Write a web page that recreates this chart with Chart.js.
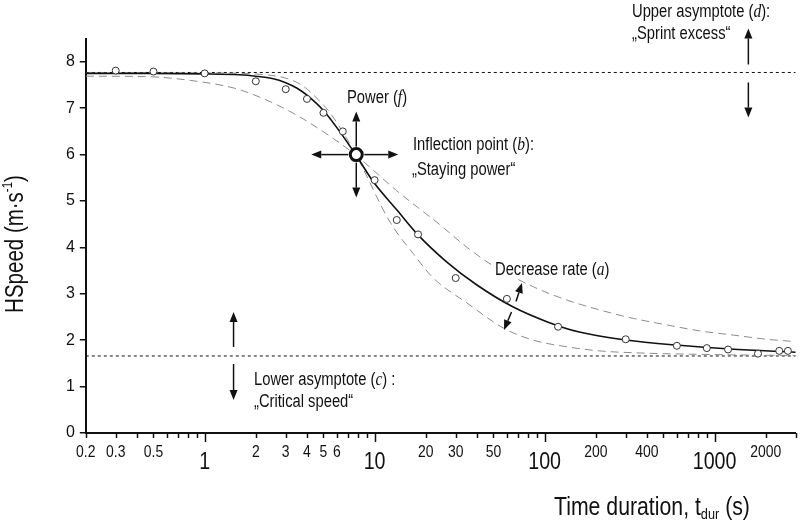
<!DOCTYPE html>
<html>
<head>
<meta charset="utf-8">
<script src="https://cdn.jsdelivr.net/npm/chart.js@4.4.1/dist/chart.umd.min.js"></script>
<style>
  html, body { margin: 0; padding: 0; background: #fff; }
</style>
</head>
<body>
<canvas id="grafico" width="800" height="531"></canvas>
<script>
const SANS = '"Liberation Sans", Arial, sans-serif';
const SERIF = '"Liberation Serif", "DejaVu Serif", serif';
const NARROW = 0.82; // compressão horizontal p/ imitar fonte condensada

// Pontos observados
const obsTime  = [0.3, 0.5, 1, 2, 3, 4, 5, 6.5, 10, 13.5, 18, 30, 60, 120, 300, 600, 900, 1200, 1800, 2400, 2700];
const obsSpeed = [7.81, 7.79, 7.75, 7.58, 7.41, 7.2, 6.9, 6.5, 5.45, 4.59, 4.28, 3.34, 2.89, 2.29, 2.02, 1.88, 1.83, 1.80, 1.71, 1.77, 1.77];

// Curva ajustada (linha cheia)
const fitTime  = [0.2, 0.5, 1, 1.6, 2, 2.5, 3, 3.5, 4, 5, 6.25, 7.8, 9.8, 13.5, 18, 26.5, 40, 65, 103, 160, 300, 620, 1230, 3000];
const fitSpeed = [7.75, 7.75, 7.74, 7.72, 7.69, 7.64, 7.55, 7.43, 7.28, 6.95, 6.49, 5.98, 5.42, 4.81, 4.27, 3.69, 3.19, 2.72, 2.40, 2.175, 2.005, 1.89, 1.81, 1.74];

// Curva tracejada mais íngreme
const steepTime  = [0.2, 1, 2.3, 3.64, 4.76, 5.47, 6.85, 7.85, 8.6, 12.3, 17, 22, 35, 58, 86, 134, 210, 330, 1000, 3000];
const steepSpeed = [7.76, 7.76, 7.72, 7.52, 7.15, 6.9, 6.35, 5.97, 5.68, 4.55, 3.85, 3.35, 2.8, 2.25, 2.0, 1.86, 1.77, 1.73, 1.69, 1.67];

// Curva tracejada mais suave
const flatTime  = [0.2, 0.46, 0.9, 1.5, 2.3, 3.6, 5.7, 7.5, 8.6, 13.5, 24, 35, 50, 86, 134, 212, 332, 523, 820, 1290, 2025, 3000];
const flatSpeed = [7.69, 7.68, 7.58, 7.43, 7.18, 6.82, 6.35, 6.03, 5.85, 5.22, 4.5, 4.0, 3.6, 3.15, 2.87, 2.65, 2.47, 2.33, 2.20, 2.11, 2.02, 1.97];

// Assíntotas e ponto de inflexão
const upperAsymptote = 7.77;
const lowerAsymptote = 1.66;
const inflectionTime  = [7.8];
const inflectionSpeed = [6.0];

// Eixos
const xMin = 0.2, xMax = 3000;
const xTickValues = [0.2, 0.3, 0.4, 0.5, 0.6, 0.7, 0.8, 0.9, 1, 2, 3, 4, 5, 6, 7, 8, 9, 10, 20, 30, 40, 50, 60, 70, 80, 90,
                     100, 200, 300, 400, 500, 600, 700, 800, 900, 1000, 2000, 3000];
const xMinorLabels = [0.2, 0.3, 0.5, 2, 3, 4, 5, 6, 20, 30, 50, 200, 400, 2000];
const xDecadeLabels = [1, 10, 100, 1000];
const yTickValues = [0, 1, 2, 3, 4, 5, 6, 7, 8];

const pts = (xs, ys) => xs.map((x, i) => ({ x: x, y: ys[i] }));

// texto com partes em fontes diferentes, comprimido na horizontal
function richText(ctx, parts, x, y, align, sx) {
    sx = sx || NARROW;
    let w = 0;
    parts.forEach(p => { ctx.font = p[1]; w += ctx.measureText(p[0]).width; });
    const start = align === 'center' ? x - w * sx / 2 : x;
    ctx.save();
    ctx.translate(start, y);
    ctx.scale(sx, 1);
    let cx = 0;
    parts.forEach(p => {
        ctx.font = p[1];
        ctx.fillText(p[0], cx, p[2] || 0);
        cx += ctx.measureText(p[0]).width;
    });
    ctx.restore();
    return w * sx;
}

function arrow(ctx, x1, y1, x2, y2) {
    const ang = Math.atan2(y2 - y1, x2 - x1);
    const len = 10, half = 4;
    const bx = x2 - len * Math.cos(ang), by = y2 - len * Math.sin(ang);
    ctx.beginPath();
    ctx.moveTo(x1, y1);
    ctx.lineTo(bx, by);
    ctx.stroke();
    ctx.beginPath();
    ctx.moveTo(x2, y2);
    ctx.lineTo(bx + half * Math.sin(ang), by - half * Math.cos(ang));
    ctx.lineTo(bx - half * Math.sin(ang), by + half * Math.cos(ang));
    ctx.closePath();
    ctx.fill();
}

const anotacoes = {
    id: 'anotacoes',
    afterDraw(chart) {
        const ctx = chart.ctx;
        const xs = chart.scales.x, ys = chart.scales.y;
        const base = chart.chartArea.bottom;
        ctx.save();
        ctx.fillStyle = '#111';
        ctx.strokeStyle = '#111';

        // ticks do eixo x
        ctx.lineWidth = 1.5;
        xTickValues.forEach(v => {
            const px = Math.round(xs.getPixelForValue(v)) + 0.5;
            const dec = xDecadeLabels.includes(v);
            ctx.beginPath();
            ctx.moveTo(px, base);
            ctx.lineTo(px, base + (dec ? 9 : 5));
            ctx.stroke();
        });

        // rótulos do eixo x
        ctx.textBaseline = 'middle';
        ctx.textAlign = 'left';
        xMinorLabels.forEach(v => richText(ctx, [[String(v), '17px ' + SANS]], xs.getPixelForValue(v), base + 19, 'center'));
        xDecadeLabels.forEach(v => richText(ctx, [[String(v), '24px ' + SANS]], xs.getPixelForValue(v), base + 29, 'center'));

        // títulos dos eixos
        richText(ctx, [['Time duration, t', '25px ' + SANS], ['dur', '15px ' + SANS, 7], [' (s)', '25px ' + SANS]], 554, 508, 'left', 0.85);
        ctx.save();
        ctx.translate(16, 244);
        ctx.rotate(-Math.PI / 2);
        richText(ctx, [['HSpeed (m·s', '25px ' + SANS], ['-1', '14px ' + SANS, -8], [')', '25px ' + SANS]], 0, 0, 'center');
        ctx.restore();

        // setas
        ctx.lineWidth = 1.5;
        const ix = xs.getPixelForValue(inflectionTime[0]);
        const iy = ys.getPixelForValue(inflectionSpeed[0]);
        arrow(ctx, ix, iy - 8, ix, iy - 43);
        arrow(ctx, ix, iy + 8, ix, iy + 43);
        arrow(ctx, ix - 8, iy, ix - 45, iy);
        arrow(ctx, ix + 8, iy, ix + 42, iy);

        const ux = xs.getPixelForValue(1580);
        const uy = ys.getPixelForValue(upperAsymptote);
        arrow(ctx, ux, uy - 8, ux, uy - 44);
        arrow(ctx, ux, uy + 10, ux, uy + 45);

        const lx = xs.getPixelForValue(1.48);
        const ly = ys.getPixelForValue(lowerAsymptote);
        arrow(ctx, lx, ly - 9, lx, ly - 44);
        arrow(ctx, lx, ly + 8, lx, ly + 44);

        arrow(ctx, 516, 301.5, 522, 283);
        arrow(ctx, 511.5, 312, 504, 330);

        // textos
        const f18 = '18px ' + SANS;
        const it = 'italic 19px ' + SERIF;
        richText(ctx, [['Power (', f18], ['f', it], [')', f18]], 347, 98);
        richText(ctx, [['Inflection point (', f18], ['b', it], ['):', f18]], 413, 145);
        richText(ctx, [['\u201EStaying power\u201C', f18]], 412, 170);
        richText(ctx, [['Upper asymptote (', f18], ['d', it], ['):', f18]], 632, 12);
        richText(ctx, [['\u201ESprint excess\u201C', f18]], 632, 34);
        richText(ctx, [['Lower asymptote (', f18], ['c', it], [') :', f18]], 254, 380);
        richText(ctx, [['\u201ECritical speed\u201C', f18]], 254, 402);
        ctx.fillStyle = '#fff';
        ctx.fillRect(494, 261, 112, 18);
        ctx.fillStyle = '#111';
        richText(ctx, [['Decrease rate (', f18], ['a', it], [')', f18]], 495, 270);
        ctx.restore();
    }
};

const ctxGrafico = document.getElementById('grafico').getContext('2d');
const grafico = new Chart(ctxGrafico, {
    type: 'scatter',
    data: {
        datasets: [
            {
                label: 'Inflexão',
                data: pts(inflectionTime, inflectionSpeed),
                pointRadius: 6,
                pointBorderWidth: 3,
                pointBackgroundColor: '#fff',
                pointBorderColor: '#111',
                showLine: false
            },
            {
                label: 'Observado',
                data: pts(obsTime, obsSpeed),
                pointRadius: 3.5,
                pointBorderWidth: 1,
                pointBackgroundColor: '#fff',
                pointBorderColor: '#333',
                showLine: false
            },
            {
                label: 'Ajuste',
                data: pts(fitTime, fitSpeed),
                showLine: true,
                borderColor: '#111',
                borderWidth: 1.6,
                pointRadius: 0,
                cubicInterpolationMode: 'monotone'
            },
            {
                label: 'Íngreme',
                data: pts(steepTime, steepSpeed),
                showLine: true,
                borderColor: '#8c8c8c',
                borderWidth: 1,
                borderDash: [8, 5],
                pointRadius: 0,
                cubicInterpolationMode: 'monotone'
            },
            {
                label: 'Suave',
                data: pts(flatTime, flatSpeed),
                showLine: true,
                borderColor: '#8c8c8c',
                borderWidth: 1,
                borderDash: [8, 5],
                pointRadius: 0,
                cubicInterpolationMode: 'monotone'
            },
            {
                label: 'Assíntota superior',
                data: pts([xMin, xMax], [upperAsymptote, upperAsymptote]),
                showLine: true,
                borderColor: '#111',
                borderWidth: 1,
                borderDash: [3, 3],
                pointRadius: 0
            },
            {
                label: 'Assíntota inferior',
                data: pts([xMin, xMax], [lowerAsymptote, lowerAsymptote]),
                showLine: true,
                borderColor: '#111',
                borderWidth: 1,
                borderDash: [3, 3],
                pointRadius: 0
            }
        ]
    },
    options: {
        responsive: false,
        devicePixelRatio: 1,
        animation: false,
        events: [],
        layout: { autoPadding: false, padding: { left: 0, right: 4.3, top: 38.6, bottom: 0 } },
        plugins: {
            legend: { display: false },
            tooltip: { enabled: false }
        },
        scales: {
            x: {
                type: 'logarithmic',
                min: xMin,
                max: xMax,
                grid: { display: false },
                border: { display: true, color: '#111', width: 2 },
                ticks: { display: false },
                afterFit: s => { s.height = 98; }
            },
            y: {
                min: 0,
                max: 8.5,
                afterBuildTicks: s => { s.ticks = yTickValues.map(v => ({ value: v })); },
                grid: { drawOnChartArea: false, drawTicks: true, tickLength: 6, color: '#111', lineWidth: 1.5 },
                border: { display: true, color: '#111', width: 2 },
                ticks: {
                    color: '#111',
                    padding: 5,
                    font: { family: SANS, size: 16 }
                },
                afterFit: s => { s.width = 85.8; }
            }
        }
    },
    plugins: [anotacoes]
});
</script>
</body>
</html>
